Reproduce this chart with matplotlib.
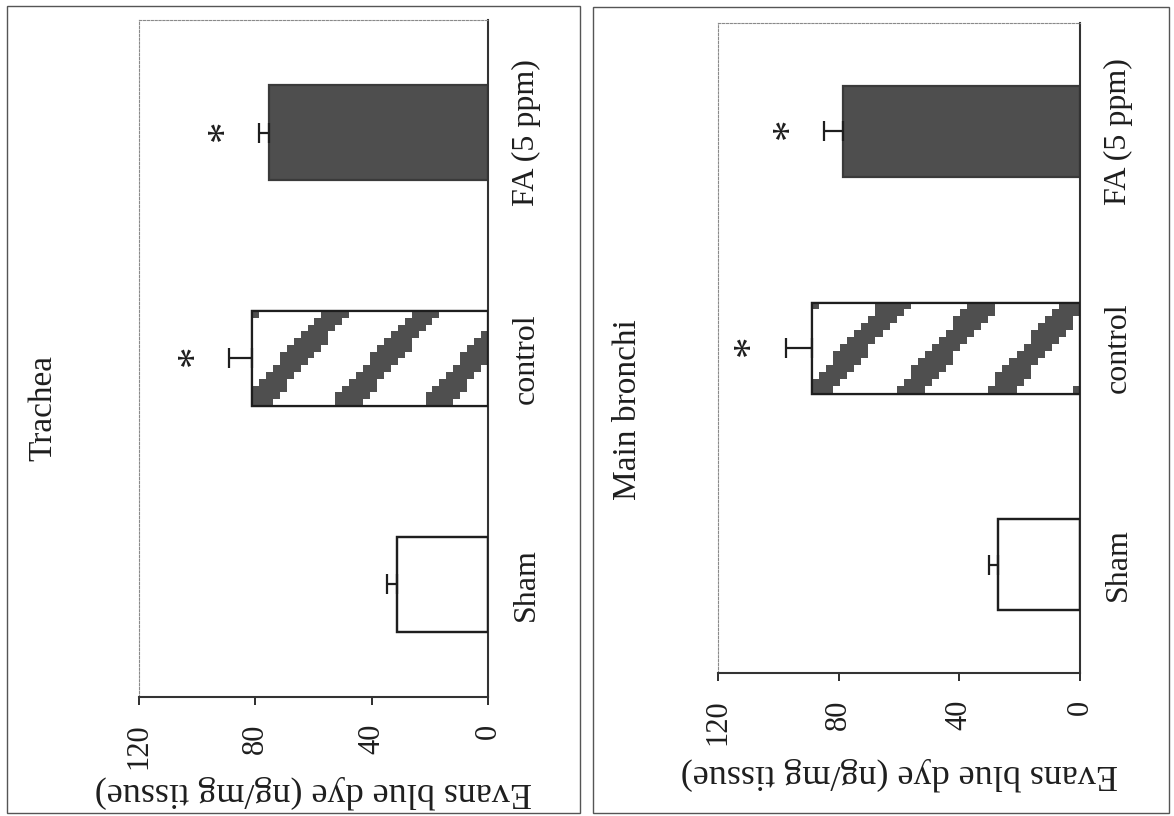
import numpy as np
import matplotlib
matplotlib.use('Agg')
import matplotlib.pyplot as plt
from matplotlib.patches import Rectangle

plt.rcParams['font.family'] = ['Liberation Serif', 'DejaVu Serif']

# --- data ---
categories = ['Sham', 'control', 'FA (5 ppm)']
trachea_mean = [31.4, 81.0, 75.2]
trachea_err = [3.4, 8.0, 3.4]
bronchi_mean = [27.2, 88.8, 78.6]
bronchi_err = [3.0, 8.7, 6.3]
significant = [False, True, True]
value_ticks = [0, 40, 80, 120]

ylabel = 'Evans blue dye (ng/mg tissue)'
ink = '#1e1e1e'
dark = '#4e4e4e'


def stripe_fill(ax, bar, cell=7):
    """Staircase diagonal stripes (like the scanned hatch) clipped to a bar."""
    x0, y0 = bar.get_x(), bar.get_y()
    w, h = bar.get_width(), bar.get_height()
    (pa, qa), (pb, qb) = ax.transData.transform([(x0, y0), (x0 + w, y0 + h)])
    wpx, hpx = abs(pb - pa), abs(qb - qa)
    ncol = max(1, int(round(wpx / cell)))
    nrow = max(1, int(round(hpx / cell)))
    xs = (np.arange(ncol) + 0.5) * wpx / ncol
    ys = (np.arange(nrow) + 0.5) * hpx / nrow
    u = xs[None, :] + 0.86 * ys[:, None] + 21
    rgba = np.ones((nrow, ncol, 4))
    rgba[(u % 90) < 30, :3] = 0.31
    im = ax.imshow(rgba, extent=(x0 + w, x0, y0, y0 + h), origin='upper',
                   interpolation='nearest', aspect='auto', zorder=2.5)
    im.set_clip_path(bar)


def draw_panel(ax, means, errs, title, title_xy, label_y):
    ypos = np.arange(len(categories))
    ax.set_xlim(120, 0)
    ax.set_ylim(-0.5, 2.5)

    bars = ax.barh(ypos, means, height=0.42, color=['white', 'white', dark],
                   edgecolor=[ink, ink, '#3a3a3a'], linewidth=1.6, zorder=2)
    stripe_fill(ax, bars[1])
    # outline again on top of the stripes
    ax.barh(ypos[:2], means[:2], height=0.42, fill=False, edgecolor=ink,
            linewidth=1.6, zorder=3)
    ax.set_xlim(120, 0)
    ax.set_ylim(-0.5, 2.5)

    ax.errorbar(means, ypos, xerr=[np.zeros(len(errs)), errs], fmt='none',
                ecolor=ink, elinewidth=1.6, capsize=7, capthick=1.6, zorder=4)

    for i, sig in enumerate(significant):
        if sig:
            ax.annotate('*', xy=(means[i] + errs[i], ypos[i]), xytext=(-25, 2),
                        textcoords='offset points', ha='center', va='center',
                        rotation=90, fontsize=31, color=ink)

    # spines: solid zero line and value axis, dotted frame elsewhere
    for side in ['top', 'left']:
        ax.spines[side].set_linestyle((0, (2, 1.5)))
        ax.spines[side].set_color('#8a8a8a')
        ax.spines[side].set_linewidth(0.8)
    for side in ['right', 'bottom']:
        ax.spines[side].set_color('#333333')
        ax.spines[side].set_linewidth(1.5)

    ax.set_xticks(value_ticks)
    ax.tick_params(axis='x', direction='out', length=6, width=1.3, colors=ink,
                   labelsize=22, labelrotation=90, pad=13)
    ax.yaxis.tick_right()
    ax.set_yticks(ypos)
    ax.set_yticklabels(categories)
    ax.tick_params(axis='y', length=0, labelsize=23, labelrotation=90, pad=17,
                   colors=ink)
    for lab in ax.get_yticklabels():
        lab.set_verticalalignment('center')

    ax.set_xlabel(ylabel, rotation=180, fontsize=26, color=ink,
                  ha='center', va='center')
    ax.xaxis.set_label_coords(0.5, label_y)

    ax.text(title_xy[0], title_xy[1], title, transform=ax.transAxes,
            rotation=90, ha='center', va='center', fontsize=24, color=ink)


fig = plt.figure(figsize=(11.74, 8.16), dpi=100)

# page frames around each panel
fig.patches.append(Rectangle((7 / 1174, 3 / 816), 573 / 1174, 807 / 816,
                             transform=fig.transFigure, fill=False,
                             edgecolor='#555555', linewidth=1.0))
fig.patches.append(Rectangle((593 / 1174, 3 / 816), 576 / 1174, 806 / 816,
                             transform=fig.transFigure, fill=False,
                             edgecolor='#555555', linewidth=1.0))

ax1 = fig.add_axes([139 / 1174, 119 / 816, 349 / 1174, 677 / 816])
draw_panel(ax1, trachea_mean, trachea_err, 'Trachea', (-0.275, 0.427), -0.14)

ax2 = fig.add_axes([718 / 1174, 143 / 816, 362 / 1174, 650 / 816])
draw_panel(ax2, bronchi_mean, bronchi_err, 'Main bronchi', (-0.25, 0.405), -0.155)

fig.savefig('out.png', dpi=100)
